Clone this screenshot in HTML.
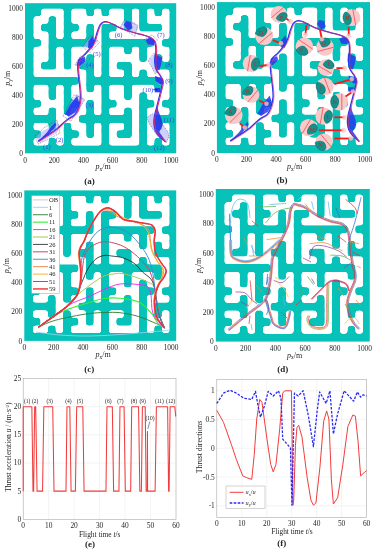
<!DOCTYPE html>
<html><head><meta charset="utf-8"><style>
html,body{margin:0;padding:0;background:#fff;width:373px;height:550px;overflow:hidden}
svg{display:block;will-change:transform}
text{-webkit-font-smoothing:antialiased}
svg{font-family:"Liberation Serif",serif;font-size:7.4px;fill:#262626}
</style></head><body>
<svg width="373" height="550" viewBox="0 0 373 550">
<defs>
<filter id="goo" x="-5%" y="-5%" width="110%" height="110%" color-interpolation-filters="sRGB">
<feGaussianBlur in="SourceGraphic" stdDeviation="0.2"/>
<feComponentTransfer><feFuncA type="linear" slope="7" intercept="-3"/></feComponentTransfer>
</filter>
<g id="maze">
<rect x="0" y="0" width="20" height="20" fill="#06c2b8"/>
<g fill="#fff" filter="url(#goo)"><rect x="2.12" y="0.720" width="3" height="1.014"/><rect x="6.12" y="0.720" width="2" height="1.014"/><rect x="9.12" y="0.720" width="1" height="1.014"/><rect x="11.12" y="0.720" width="2" height="1.014"/><rect x="14.12" y="0.720" width="1" height="1.014"/><rect x="16.12" y="0.720" width="1" height="1.014"/><rect x="18.12" y="0.720" width="1" height="1.014"/><rect x="1.12" y="1.734" width="2" height="1.014"/><rect x="4.12" y="1.734" width="1" height="1.014"/><rect x="6.12" y="1.734" width="7" height="1.014"/><rect x="14.12" y="1.734" width="1" height="1.014"/><rect x="16.12" y="1.734" width="3" height="1.014"/><rect x="1.12" y="2.748" width="1" height="1.014"/><rect x="4.12" y="2.748" width="1" height="1.014"/><rect x="7.12" y="2.748" width="1" height="1.014"/><rect x="9.12" y="2.748" width="1" height="1.014"/><rect x="12.12" y="2.748" width="1" height="1.014"/><rect x="14.12" y="2.748" width="1" height="1.014"/><rect x="18.12" y="2.748" width="1" height="1.014"/><rect x="1.12" y="3.762" width="2" height="1.014"/><rect x="4.12" y="3.762" width="1" height="1.014"/><rect x="6.12" y="3.762" width="2" height="1.014"/><rect x="9.12" y="3.762" width="1" height="1.014"/><rect x="11.12" y="3.762" width="8" height="1.014"/><rect x="2.12" y="4.776" width="1" height="1.014"/><rect x="9.12" y="4.776" width="1" height="1.014"/><rect x="17.12" y="4.776" width="1" height="1.014"/><rect x="1.12" y="5.790" width="2" height="1.014"/><rect x="4.12" y="5.790" width="1" height="1.014"/><rect x="6.12" y="5.790" width="4" height="1.014"/><rect x="11.12" y="5.790" width="2" height="1.014"/><rect x="14.12" y="5.790" width="1" height="1.014"/><rect x="16.12" y="5.790" width="3" height="1.014"/><rect x="1.12" y="6.804" width="2" height="1.014"/><rect x="4.12" y="6.804" width="1" height="1.014"/><rect x="6.12" y="6.804" width="2" height="1.014"/><rect x="9.12" y="6.804" width="1" height="1.014"/><rect x="11.12" y="6.804" width="4" height="1.014"/><rect x="16.12" y="6.804" width="1" height="1.014"/><rect x="18.12" y="6.804" width="1" height="1.014"/><rect x="1.12" y="7.818" width="1" height="1.014"/><rect x="4.12" y="7.818" width="1" height="1.014"/><rect x="6.12" y="7.818" width="1" height="1.014"/><rect x="9.12" y="7.818" width="1" height="1.014"/><rect x="11.12" y="7.818" width="1" height="1.014"/><rect x="14.12" y="7.818" width="3" height="1.014"/><rect x="1.12" y="8.832" width="7" height="1.014"/><rect x="9.12" y="8.832" width="1" height="1.014"/><rect x="11.12" y="8.832" width="2" height="1.014"/><rect x="14.12" y="8.832" width="1" height="1.014"/><rect x="16.12" y="8.832" width="3" height="1.014"/><rect x="7.12" y="9.846" width="1" height="1.014"/><rect x="18.12" y="9.846" width="1" height="1.014"/><rect x="1.12" y="10.860" width="2" height="1.014"/><rect x="4.12" y="10.860" width="1" height="1.014"/><rect x="6.12" y="10.860" width="2" height="1.014"/><rect x="9.12" y="10.860" width="1" height="1.014"/><rect x="11.12" y="10.860" width="2" height="1.014"/><rect x="14.12" y="10.860" width="3" height="1.014"/><rect x="18.12" y="10.860" width="1" height="1.014"/><rect x="1.12" y="11.874" width="2" height="1.014"/><rect x="4.12" y="11.874" width="1" height="1.014"/><rect x="6.12" y="11.874" width="4" height="1.014"/><rect x="11.12" y="11.874" width="2" height="1.014"/><rect x="14.12" y="11.874" width="1" height="1.014"/><rect x="16.12" y="11.874" width="3" height="1.014"/><rect x="2.12" y="12.888" width="3" height="1.014"/><rect x="7.12" y="12.888" width="1" height="1.014"/><rect x="9.12" y="12.888" width="1" height="1.014"/><rect x="12.12" y="12.888" width="3" height="1.014"/><rect x="17.12" y="12.888" width="1" height="1.014"/><rect x="1.12" y="13.902" width="2" height="1.014"/><rect x="4.12" y="13.902" width="1" height="1.014"/><rect x="6.12" y="13.902" width="2" height="1.014"/><rect x="9.12" y="13.902" width="1" height="1.014"/><rect x="11.12" y="13.902" width="2" height="1.014"/><rect x="14.12" y="13.902" width="1" height="1.014"/><rect x="16.12" y="13.902" width="3" height="1.014"/><rect x="4.12" y="14.916" width="3" height="1.014"/><rect x="14.12" y="14.916" width="1" height="1.014"/><rect x="16.12" y="14.916" width="1" height="1.014"/><rect x="1.12" y="15.930" width="2" height="1.014"/><rect x="4.12" y="15.930" width="1" height="1.014"/><rect x="6.12" y="15.930" width="2" height="1.014"/><rect x="9.12" y="15.930" width="1" height="1.014"/><rect x="11.12" y="15.930" width="2" height="1.014"/><rect x="14.12" y="15.930" width="1" height="1.014"/><rect x="16.12" y="15.930" width="1" height="1.014"/><rect x="18.12" y="15.930" width="1" height="1.014"/><rect x="2.12" y="16.944" width="3" height="1.014"/><rect x="7.12" y="16.944" width="1" height="1.014"/><rect x="9.12" y="16.944" width="1" height="1.014"/><rect x="11.12" y="16.944" width="1" height="1.014"/><rect x="14.12" y="16.944" width="1" height="1.014"/><rect x="16.12" y="16.944" width="3" height="1.014"/><rect x="1.12" y="17.958" width="2" height="1.014"/><rect x="4.12" y="17.958" width="1" height="1.014"/><rect x="6.12" y="17.958" width="4" height="1.014"/><rect x="11.12" y="17.958" width="4" height="1.014"/><rect x="16.12" y="17.958" width="1" height="1.014"/><rect x="18.12" y="17.958" width="1" height="1.014"/></g>
</g>
</defs>
<rect width="373" height="550" fill="#fff"/>

<use href="#maze" transform="translate(25,3.2) scale(7.5600,7.5050)"/>
<text x="25" y="162.7" text-anchor="middle">0</text>
<text x="23" y="155.9" text-anchor="end">0</text>
<text x="54.22" y="162.7" text-anchor="middle">200</text>
<text x="23" y="126.9" text-anchor="end">200</text>
<text x="83.43" y="162.7" text-anchor="middle">400</text>
<text x="23" y="97.89" text-anchor="end">400</text>
<text x="112.65" y="162.7" text-anchor="middle">600</text>
<text x="23" y="68.89" text-anchor="end">600</text>
<text x="141.87" y="162.7" text-anchor="middle">800</text>
<text x="23" y="39.88" text-anchor="end">800</text>
<text x="171.09" y="162.7" text-anchor="middle">1000</text>
<text x="23" y="10.88" text-anchor="end">1000</text>
<text x="103.2" y="169.2" text-anchor="middle" font-size="8"><tspan font-style="italic">p</tspan><tspan font-size="5.4" dy="1.9">x</tspan><tspan dy="-1.9">/m</tspan></text>
<text transform="translate(9.8,78.25) rotate(-90)" text-anchor="middle" font-size="8"><tspan font-style="italic">p</tspan><tspan font-size="5.4" dy="1.9">y</tspan><tspan dy="-1.9">/m</tspan></text>
<use href="#maze" transform="translate(216.9,2.1) scale(7.6550,7.5450)"/>
<text x="216.9" y="162.4" text-anchor="middle">0</text>
<text x="214.9" y="155.6" text-anchor="end">0</text>
<text x="246.48" y="162.4" text-anchor="middle">200</text>
<text x="214.9" y="126.44" text-anchor="end">200</text>
<text x="276.07" y="162.4" text-anchor="middle">400</text>
<text x="214.9" y="97.28" text-anchor="end">400</text>
<text x="305.65" y="162.4" text-anchor="middle">600</text>
<text x="214.9" y="68.12" text-anchor="end">600</text>
<text x="335.24" y="162.4" text-anchor="middle">800</text>
<text x="214.9" y="38.96" text-anchor="end">800</text>
<text x="364.82" y="162.4" text-anchor="middle">1000</text>
<text x="214.9" y="9.8" text-anchor="end">1000</text>
<text x="294.6" y="168.9" text-anchor="middle" font-size="8"><tspan font-style="italic">p</tspan><tspan font-size="5.4" dy="1.9">x</tspan><tspan dy="-1.9">/m</tspan></text>
<text transform="translate(201.7,77.55) rotate(-90)" text-anchor="middle" font-size="8"><tspan font-style="italic">p</tspan><tspan font-size="5.4" dy="1.9">y</tspan><tspan dy="-1.9">/m</tspan></text>
<use href="#maze" transform="translate(24.3,190.4) scale(7.5950,7.5250)"/>
<text x="24.3" y="350.3" text-anchor="middle">0</text>
<text x="22.3" y="343.5" text-anchor="end">0</text>
<text x="53.65" y="350.3" text-anchor="middle">200</text>
<text x="22.3" y="314.42" text-anchor="end">200</text>
<text x="83.01" y="350.3" text-anchor="middle">400</text>
<text x="22.3" y="285.34" text-anchor="end">400</text>
<text x="112.36" y="350.3" text-anchor="middle">600</text>
<text x="22.3" y="256.25" text-anchor="end">600</text>
<text x="141.71" y="350.3" text-anchor="middle">800</text>
<text x="22.3" y="227.17" text-anchor="end">800</text>
<text x="171.06" y="350.3" text-anchor="middle">1000</text>
<text x="22.3" y="198.09" text-anchor="end">1000</text>
<text x="103.2" y="356.8" text-anchor="middle" font-size="8"><tspan font-style="italic">p</tspan><tspan font-size="5.4" dy="1.9">x</tspan><tspan dy="-1.9">/m</tspan></text>
<text transform="translate(9.1,265.65) rotate(-90)" text-anchor="middle" font-size="8"><tspan font-style="italic">p</tspan><tspan font-size="5.4" dy="1.9">y</tspan><tspan dy="-1.9">/m</tspan></text>
<use href="#maze" transform="translate(215.8,189) scale(7.7000,7.6300)"/>
<text x="215.8" y="351" text-anchor="middle">0</text>
<text x="213.8" y="344.2" text-anchor="end">0</text>
<text x="245.56" y="351" text-anchor="middle">200</text>
<text x="213.8" y="314.71" text-anchor="end">200</text>
<text x="275.32" y="351" text-anchor="middle">400</text>
<text x="213.8" y="285.22" text-anchor="end">400</text>
<text x="305.08" y="351" text-anchor="middle">600</text>
<text x="213.8" y="255.74" text-anchor="end">600</text>
<text x="334.83" y="351" text-anchor="middle">800</text>
<text x="213.8" y="226.25" text-anchor="end">800</text>
<text x="364.59" y="351" text-anchor="middle">1000</text>
<text x="213.8" y="196.76" text-anchor="end">1000</text>
<text x="294.6" y="357.5" text-anchor="middle" font-size="8"><tspan font-style="italic">p</tspan><tspan font-size="5.4" dy="1.9">x</tspan><tspan dy="-1.9">/m</tspan></text>
<text transform="translate(200.6,265.3) rotate(-90)" text-anchor="middle" font-size="8"><tspan font-style="italic">p</tspan><tspan font-size="5.4" dy="1.9">y</tspan><tspan dy="-1.9">/m</tspan></text>
<path d="M36.00,137.00 L41.00,132.00 L50.00,127.00 L56.00,121.00 L60.00,126.00 L57.00,133.00 L48.00,138.00 L40.00,143.00Z" fill="#a9a9ff" opacity="0.55"/>
<path d="M37.90,141.60 L46.90,132.60 L51.20,126.60 L55.40,122.30 L56.30,124.90 L53.70,129.10 L47.70,135.20 L39.10,141.60Z" fill="#1f2ff0" opacity="0.85"/>
<path d="M35.00,136.00 L44.00,128.00 L57.00,120.00 L60.00,133.00 L47.00,140.00 L38.00,144.00Z" fill="none" stroke="#4a4a6a" stroke-width="0.55" stroke-dasharray="1.1,0.9"/>
<path d="M66.00,114.00 L72.00,100.00 L77.00,94.00 L84.00,99.00 L79.00,112.00 L70.00,119.00Z" fill="#a9a9ff" opacity="0.55"/>
<path d="M77.20,96.00 L79.70,104.60 L75.40,112.30 L68.60,116.60 L65.10,114.00 L70.30,104.60Z" fill="#1f2ff0" opacity="0.85"/>
<path d="M63.00,115.70 L74.20,94.70 L84.90,99.40 L70.70,121.30Z" fill="none" stroke="#4a4a6a" stroke-width="0.55" stroke-dasharray="1.1,0.9"/>
<path d="M76.00,64.00 L79.00,58.00 L85.00,56.00 L86.00,62.00 L80.00,67.00Z" fill="#a9a9ff" opacity="0.55"/>
<path d="M76.50,65.50 L78.50,59.00 L84.50,57.00 L85.50,61.00 L80.00,66.00Z" fill="#1f2ff0" opacity="0.85"/>
<path d="M75.00,64.60 L80.50,56.00 L86.50,58.00 L81.00,68.00Z" fill="none" stroke="#4a4a6a" stroke-width="0.55" stroke-dasharray="1.1,0.9"/>
<path d="M83.00,46.50 L88.00,40.00 L92.50,36.50 L98.00,41.00 L91.00,50.00Z" fill="#a9a9ff" opacity="0.55"/>
<path d="M88.00,48.00 L88.50,41.00 L92.60,36.30 L94.50,42.00 L92.00,48.50Z" fill="#1f2ff0" opacity="0.85"/>
<path d="M82.30,46.60 L91.00,35.50 L99.40,42.30 L90.00,52.60Z" fill="none" stroke="#4a4a6a" stroke-width="0.55" stroke-dasharray="1.1,0.9"/>
<path d="M121.30,25.00 L124.00,20.50 L134.00,22.00 L138.40,27.00 L135.00,33.50 L126.00,30.50Z" fill="#a9a9ff" opacity="0.55"/>
<path d="M123.70,25.00 L126.00,21.10 L131.00,22.00 L132.50,28.00 L128.00,30.50Z" fill="#1f2ff0" opacity="0.85"/>
<path d="M120.70,27.00 L124.30,19.90 L137.80,25.20 L134.90,36.40Z" fill="none" stroke="#4a4a6a" stroke-width="0.55" stroke-dasharray="1.1,0.9"/>
<path d="M145.50,39.00 L150.00,36.50 L155.00,39.50 L155.00,45.50 L148.00,45.20Z" fill="#a9a9ff" opacity="0.55"/>
<path d="M145.80,40.00 L150.00,37.30 L154.50,40.50 L154.00,45.00 L148.00,44.60Z" fill="#1f2ff0" opacity="0.85"/>
<path d="M144.50,39.50 L152.00,35.00 L157.50,40.00 L150.00,46.50Z" fill="none" stroke="#4a4a6a" stroke-width="0.55" stroke-dasharray="1.1,0.9"/>
<path d="M149.00,60.00 L154.50,53.90 L162.20,57.70 L161.20,65.00 L157.00,73.50 L153.00,70.00Z" fill="#a9a9ff" opacity="0.55"/>
<path d="M154.50,53.90 L162.20,57.70 L161.20,64.50 L159.30,70.30 L155.90,69.30 L154.00,61.60Z" fill="#1f2ff0" opacity="0.85"/>
<path d="M148.20,60.60 L154.00,53.00 L163.00,57.00 L155.40,74.10Z" fill="none" stroke="#4a4a6a" stroke-width="0.55" stroke-dasharray="1.1,0.9"/>
<path d="M155.00,76.10 L163.20,79.00 L163.60,84.00 L160.00,84.70 L155.50,81.50Z" fill="#a9a9ff" opacity="0.55"/>
<path d="M155.00,76.10 L163.20,79.00 L163.60,83.80 L160.30,84.20 L155.40,80.90Z" fill="#1f2ff0" opacity="0.85"/>
<path d="M154.50,87.60 L160.30,87.60 L160.30,92.50 L154.50,92.50Z" fill="#a9a9ff" opacity="0.55"/>
<path d="M154.80,87.80 L160.00,87.80 L160.00,92.20 L154.80,92.20Z" fill="#1f2ff0" opacity="0.85"/>
<path d="M146.80,117.50 L152.50,113.70 L162.20,124.30 L168.00,132.00 L169.00,136.90 L166.10,142.60 L157.40,135.90 L149.70,124.30Z" fill="#a9a9ff" opacity="0.55"/>
<path d="M157.40,105.00 L158.30,110.80 L161.70,119.50 L162.70,125.30 L159.30,132.00 L166.10,141.70 L162.20,138.80 L156.40,133.00 L154.50,124.30 L155.00,114.70Z" fill="#1f2ff0" opacity="0.85"/>
<path d="M146.80,117.50 L152.50,113.70 L162.20,124.30 L168.00,132.00 L169.00,136.90 L166.10,142.60 L157.40,135.90 L149.70,124.30Z" fill="none" stroke="#4a4a6a" stroke-width="0.55" stroke-dasharray="1.1,0.9"/>
<path d="M38.40,141.30 C40.13,140.20 45.52,136.88 48.80,134.70 C52.08,132.52 54.98,130.70 58.10,128.20 C61.22,125.70 64.68,121.90 67.50,119.70 C70.32,117.50 73.12,117.03 75.00,115.00 C76.88,112.97 77.85,110.32 78.80,107.50 C79.75,104.68 80.45,101.22 80.70,98.10 C80.95,94.98 80.55,91.92 80.30,88.80 C80.05,85.68 79.57,83.05 79.20,79.40 C78.83,75.75 77.97,70.23 78.10,66.90 C78.23,63.57 78.75,61.58 80.00,59.40 C81.25,57.22 83.72,55.83 85.60,53.80 C87.48,51.77 89.73,49.40 91.30,47.20 C92.87,45.00 93.92,43.25 95.00,40.60 C96.08,37.95 96.87,33.95 97.80,31.30 C98.73,28.65 99.50,26.27 100.60,24.70 C101.70,23.13 102.83,22.22 104.40,21.90 C105.97,21.58 108.12,22.18 110.00,22.80 C111.88,23.42 113.82,24.65 115.70,25.60 C117.58,26.55 119.33,27.67 121.30,28.50 C123.27,29.33 125.38,29.92 127.50,30.60 C129.62,31.28 132.22,32.07 134.00,32.60 C135.78,33.13 136.47,33.35 138.20,33.80 C139.93,34.25 142.32,34.65 144.40,35.30 C146.48,35.95 149.02,36.78 150.70,37.70 C152.38,38.62 153.60,39.25 154.50,40.80 C155.40,42.35 155.83,44.67 156.10,47.00 C156.37,49.33 156.23,52.22 156.10,54.80 C155.97,57.38 155.17,59.92 155.30,62.50 C155.43,65.08 155.95,67.97 156.90,70.30 C157.85,72.63 160.00,74.50 161.00,76.50 C162.00,78.50 162.82,80.13 162.90,82.30 C162.98,84.47 162.10,86.83 161.50,89.50 C160.90,92.17 160.03,95.38 159.30,98.30 C158.57,101.22 157.83,104.10 157.10,107.00 C156.37,109.90 155.38,113.03 154.90,115.70 C154.42,118.37 154.08,120.57 154.20,123.00 C154.32,125.43 154.75,128.12 155.60,130.30 C156.45,132.48 157.60,134.17 159.30,136.10 C161.00,138.03 164.72,140.93 165.80,141.90" fill="none" stroke="#3434f2" stroke-width="1.2" transform="translate(-0.4,-0.1)"/>
<path d="M38.40,141.30 C40.13,140.20 45.52,136.88 48.80,134.70 C52.08,132.52 54.98,130.70 58.10,128.20 C61.22,125.70 64.68,121.90 67.50,119.70 C70.32,117.50 73.12,117.03 75.00,115.00 C76.88,112.97 77.85,110.32 78.80,107.50 C79.75,104.68 80.45,101.22 80.70,98.10 C80.95,94.98 80.55,91.92 80.30,88.80 C80.05,85.68 79.57,83.05 79.20,79.40 C78.83,75.75 77.97,70.23 78.10,66.90 C78.23,63.57 78.75,61.58 80.00,59.40 C81.25,57.22 83.72,55.83 85.60,53.80 C87.48,51.77 89.73,49.40 91.30,47.20 C92.87,45.00 93.92,43.25 95.00,40.60 C96.08,37.95 96.87,33.95 97.80,31.30 C98.73,28.65 99.50,26.27 100.60,24.70 C101.70,23.13 102.83,22.22 104.40,21.90 C105.97,21.58 108.12,22.18 110.00,22.80 C111.88,23.42 113.82,24.65 115.70,25.60 C117.58,26.55 119.33,27.67 121.30,28.50 C123.27,29.33 125.38,29.92 127.50,30.60 C129.62,31.28 132.22,32.07 134.00,32.60 C135.78,33.13 136.47,33.35 138.20,33.80 C139.93,34.25 142.32,34.65 144.40,35.30 C146.48,35.95 149.02,36.78 150.70,37.70 C152.38,38.62 153.60,39.25 154.50,40.80 C155.40,42.35 155.83,44.67 156.10,47.00 C156.37,49.33 156.23,52.22 156.10,54.80 C155.97,57.38 155.17,59.92 155.30,62.50 C155.43,65.08 155.95,67.97 156.90,70.30 C157.85,72.63 160.00,74.50 161.00,76.50 C162.00,78.50 162.82,80.13 162.90,82.30 C162.98,84.47 162.10,86.83 161.50,89.50 C160.90,92.17 160.03,95.38 159.30,98.30 C158.57,101.22 157.83,104.10 157.10,107.00 C156.37,109.90 155.38,113.03 154.90,115.70 C154.42,118.37 154.08,120.57 154.20,123.00 C154.32,125.43 154.75,128.12 155.60,130.30 C156.45,132.48 157.60,134.17 159.30,136.10 C161.00,138.03 164.72,140.93 165.80,141.90" fill="none" stroke="#e8206a" stroke-width="0.95" transform="translate(0.45,0.2)"/>
<text x="46.9" y="149.3" text-anchor="middle" font-size="6.5" style="fill:#2f3ff0">(1)</text>
<text x="59.6" y="141.5" text-anchor="middle" font-size="6.5" style="fill:#2f3ff0">(2)</text>
<text x="89.3" y="106.7" text-anchor="middle" font-size="6.5" style="fill:#2f3ff0">(3)</text>
<text x="90" y="67.1" text-anchor="middle" font-size="6.5" style="fill:#2f3ff0">(4)</text>
<text x="96.9" y="56" text-anchor="middle" font-size="6.5" style="fill:#2f3ff0">(5)</text>
<text x="118.6" y="37.3" text-anchor="middle" font-size="6.5" style="fill:#2f3ff0">(6)</text>
<text x="161" y="37.3" text-anchor="middle" font-size="6.5" style="fill:#2f3ff0">(7)</text>
<text x="169" y="67.1" text-anchor="middle" font-size="6.5" style="fill:#2f3ff0">(8)</text>
<text x="169" y="82.5" text-anchor="middle" font-size="6.5" style="fill:#2f3ff0">(9)</text>
<text x="147.8" y="91.7" text-anchor="middle" font-size="6.5" style="fill:#2f3ff0">(10)</text>
<text x="169" y="121.6" text-anchor="middle" font-size="6.5" style="fill:#2f3ff0">(11)</text>
<text x="159.3" y="149.6" text-anchor="middle" font-size="6.5" style="fill:#2f3ff0">(12)</text>
<path d="M153.2,89.6 L157.5,89.6" stroke="#222" stroke-width="0.7"/>
<path d="M229.96,141.24 L239.08,132.19 L243.43,126.16 L247.68,121.83 L248.59,124.45 L245.96,128.67 L239.89,134.80 L231.18,141.24Z" fill="#2638ec" opacity="0.85"/>
<path d="M269.76,95.39 L272.29,104.04 L267.93,111.78 L261.05,116.10 L257.50,113.49 L262.77,104.04Z" fill="#2638ec" opacity="0.85"/>
<path d="M269.05,64.73 L271.07,58.20 L277.15,56.19 L278.16,60.21 L272.59,65.23Z" fill="#2638ec" opacity="0.85"/>
<path d="M280.69,47.14 L281.20,40.10 L285.35,35.38 L287.27,41.11 L284.74,47.64Z" fill="#2638ec" opacity="0.85"/>
<path d="M316.84,24.02 L319.17,20.10 L324.23,21.00 L325.75,27.03 L321.19,29.55Z" fill="#2638ec" opacity="0.85"/>
<path d="M339.22,39.10 L343.47,36.38 L348.03,39.60 L347.52,44.12 L341.45,43.72Z" fill="#2638ec" opacity="0.85"/>
<path d="M348.03,53.07 L355.82,56.89 L354.81,63.73 L352.89,69.56 L349.44,68.55 L347.52,60.81Z" fill="#2638ec" opacity="0.85"/>
<path d="M348.53,75.39 L356.84,78.30 L357.24,83.13 L353.90,83.53 L348.94,80.21Z" fill="#2638ec" opacity="0.85"/>
<path d="M348.33,87.15 L353.60,87.15 L353.60,91.57 L348.33,91.57Z" fill="#2638ec" opacity="0.85"/>
<path d="M350.96,104.44 L351.88,110.27 L355.32,119.02 L356.33,124.85 L352.89,131.59 L359.77,141.34 L355.82,138.42 L349.95,132.59 L348.03,123.85 L348.53,114.19Z" fill="#2638ec" opacity="0.85"/>
<path d="M230.47,140.94 C232.22,139.83 237.67,136.50 241.00,134.30 C244.32,132.11 247.26,130.28 250.42,127.77 C253.57,125.25 257.08,121.43 259.93,119.22 C262.79,117.01 265.62,116.54 267.53,114.50 C269.44,112.45 270.41,109.79 271.38,106.96 C272.34,104.12 273.05,100.64 273.30,97.51 C273.55,94.37 273.15,91.29 272.89,88.16 C272.64,85.02 272.15,82.38 271.78,78.71 C271.41,75.04 270.53,69.49 270.67,66.14 C270.80,62.79 271.33,60.79 272.59,58.60 C273.86,56.40 276.35,55.01 278.26,52.97 C280.17,50.93 282.45,48.55 284.03,46.33 C285.62,44.12 286.68,42.36 287.78,39.70 C288.88,37.04 289.67,33.01 290.61,30.35 C291.56,27.69 292.34,25.29 293.45,23.71 C294.56,22.14 295.71,21.22 297.30,20.90 C298.88,20.58 301.06,21.18 302.97,21.80 C304.88,22.42 306.83,23.66 308.74,24.62 C310.65,25.57 312.42,26.70 314.41,27.53 C316.40,28.37 318.54,28.96 320.69,29.65 C322.83,30.33 325.46,31.12 327.27,31.66 C329.08,32.19 329.77,32.41 331.52,32.86 C333.28,33.32 335.69,33.72 337.80,34.37 C339.91,35.02 342.48,35.86 344.18,36.78 C345.88,37.71 347.12,38.34 348.03,39.90 C348.94,41.46 349.38,43.79 349.65,46.13 C349.92,48.48 349.78,51.38 349.65,53.98 C349.51,56.57 348.70,59.12 348.84,61.72 C348.97,64.31 349.50,67.21 350.46,69.56 C351.42,71.90 353.60,73.78 354.61,75.79 C355.62,77.80 356.45,79.44 356.53,81.62 C356.62,83.80 355.72,86.18 355.12,88.86 C354.51,91.54 353.63,94.77 352.89,97.71 C352.15,100.64 351.40,103.54 350.66,106.45 C349.92,109.37 348.92,112.52 348.43,115.20 C347.94,117.88 347.61,120.09 347.72,122.54 C347.84,124.98 348.28,127.68 349.14,129.88 C350.00,132.07 351.17,133.76 352.89,135.71 C354.61,137.65 358.37,140.57 359.47,141.54" fill="none" stroke="#3232ea" stroke-width="1.3" transform="translate(-0.3,-0.1)"/>
<path d="M230.47,140.94 C232.22,139.83 237.67,136.50 241.00,134.30 C244.32,132.11 247.26,130.28 250.42,127.77 C253.57,125.25 257.08,121.43 259.93,119.22 C262.79,117.01 265.62,116.54 267.53,114.50 C269.44,112.45 270.41,109.79 271.38,106.96 C272.34,104.12 273.05,100.64 273.30,97.51 C273.55,94.37 273.15,91.29 272.89,88.16 C272.64,85.02 272.15,82.38 271.78,78.71 C271.41,75.04 270.53,69.49 270.67,66.14 C270.80,62.79 271.33,60.79 272.59,58.60 C273.86,56.40 276.35,55.01 278.26,52.97 C280.17,50.93 282.45,48.55 284.03,46.33 C285.62,44.12 286.68,42.36 287.78,39.70 C288.88,37.04 289.67,33.01 290.61,30.35 C291.56,27.69 292.34,25.29 293.45,23.71 C294.56,22.14 295.71,21.22 297.30,20.90 C298.88,20.58 301.06,21.18 302.97,21.80 C304.88,22.42 306.83,23.66 308.74,24.62 C310.65,25.57 312.42,26.70 314.41,27.53 C316.40,28.37 318.54,28.96 320.69,29.65 C322.83,30.33 325.46,31.12 327.27,31.66 C329.08,32.19 329.77,32.41 331.52,32.86 C333.28,33.32 335.69,33.72 337.80,34.37 C339.91,35.02 342.48,35.86 344.18,36.78 C345.88,37.71 347.12,38.34 348.03,39.90 C348.94,41.46 349.38,43.79 349.65,46.13 C349.92,48.48 349.78,51.38 349.65,53.98 C349.51,56.57 348.70,59.12 348.84,61.72 C348.97,64.31 349.50,67.21 350.46,69.56 C351.42,71.90 353.60,73.78 354.61,75.79 C355.62,77.80 356.45,79.44 356.53,81.62 C356.62,83.80 355.72,86.18 355.12,88.86 C354.51,91.54 353.63,94.77 352.89,97.71 C352.15,100.64 351.40,103.54 350.66,106.45 C349.92,109.37 348.92,112.52 348.43,115.20 C347.94,117.88 347.61,120.09 347.72,122.54 C347.84,124.98 348.28,127.68 349.14,129.88 C350.00,132.07 351.17,133.76 352.89,135.71 C354.61,137.65 358.37,140.57 359.47,141.54" fill="none" stroke="#d8306e" stroke-width="0.7" transform="translate(0.6,0.3)"/>
<clipPath id="cb"><rect x="216.9" y="2.1" width="153.1" height="150.9"/></clipPath>
<g clip-path="url(#cb)">
<clipPath id="cc0"><circle cx="233.8" cy="115.2" r="8.8"/></clipPath>
<circle cx="233.8" cy="115.2" r="8.8" fill="#f9c8c8"/>
<ellipse cx="230.56" cy="111.96" rx="4.40" ry="6.69" transform="rotate(-135 230.56 111.96)" fill="#14918a" stroke="#0b5d58" stroke-width="0.5" clip-path="url(#cc0)"/>
<line x1="229.57" y1="122.92" x2="241.52" y2="110.97" stroke="#f23a3a" stroke-width="0.7"/>
<text x="230.56" y="114.16" text-anchor="middle" font-size="6.2" style="fill:#b03030">A</text>
<clipPath id="cc1"><circle cx="251.1" cy="94.5" r="8.3"/></clipPath>
<circle cx="251.1" cy="94.5" r="8.3" fill="#f9c8c8"/>
<ellipse cx="247.79" cy="91.73" rx="4.15" ry="6.31" transform="rotate(-140 247.79 91.73)" fill="#14918a" stroke="#0b5d58" stroke-width="0.5" clip-path="url(#cc1)"/>
<line x1="247.76" y1="102.10" x2="258.00" y2="89.89" stroke="#f23a3a" stroke-width="0.7"/>
<text x="247.79" y="93.93" text-anchor="middle" font-size="6.2" style="fill:#b03030">B</text>
<clipPath id="cc2"><circle cx="251.3" cy="63.5" r="8.6"/></clipPath>
<circle cx="251.3" cy="63.5" r="8.6" fill="#f9c8c8"/>
<ellipse cx="255.70" cy="64.28" rx="4.30" ry="6.54" transform="rotate(10 255.70 64.28)" fill="#14918a" stroke="#0b5d58" stroke-width="0.5" clip-path="url(#cc2)"/>
<line x1="250.36" y1="54.95" x2="247.49" y2="71.21" stroke="#f23a3a" stroke-width="0.7"/>
<text x="255.70" y="66.48" text-anchor="middle" font-size="6.2" style="fill:#b03030">C</text>
<clipPath id="cc3"><circle cx="264.1" cy="36.1" r="9.0"/></clipPath>
<circle cx="264.1" cy="36.1" r="9.0" fill="#f9c8c8"/>
<ellipse cx="261.09" cy="32.51" rx="4.50" ry="6.84" transform="rotate(-130 261.09 32.51)" fill="#14918a" stroke="#0b5d58" stroke-width="0.5" clip-path="url(#cc3)"/>
<line x1="259.10" y1="43.58" x2="272.34" y2="32.48" stroke="#f23a3a" stroke-width="0.7"/>
<text x="261.09" y="34.71" text-anchor="middle" font-size="6.2" style="fill:#b03030">D</text>
<clipPath id="cc4"><circle cx="278.9" cy="14.4" r="8.3"/></clipPath>
<circle cx="278.9" cy="14.4" r="8.3" fill="#f9c8c8"/>
<ellipse cx="281.67" cy="17.71" rx="4.15" ry="6.31" transform="rotate(50 281.67 17.71)" fill="#14918a" stroke="#0b5d58" stroke-width="0.5" clip-path="url(#cc4)"/>
<line x1="283.51" y1="7.50" x2="271.30" y2="17.74" stroke="#f23a3a" stroke-width="0.7"/>
<text x="281.67" y="19.91" text-anchor="middle" font-size="6.2" style="fill:#b03030">E</text>
<clipPath id="cc5"><circle cx="304.4" cy="46.4" r="8.8"/></clipPath>
<circle cx="304.4" cy="46.4" r="8.8" fill="#f9c8c8"/>
<ellipse cx="301.78" cy="50.15" rx="4.40" ry="6.69" transform="rotate(125 301.78 50.15)" fill="#14918a" stroke="#0b5d58" stroke-width="0.5" clip-path="url(#cc5)"/>
<line x1="312.73" y1="49.23" x2="298.89" y2="39.54" stroke="#f23a3a" stroke-width="0.7"/>
<text x="301.78" y="52.35" text-anchor="middle" font-size="6.2" style="fill:#b03030">F</text>
<clipPath id="cc6"><circle cx="325" cy="47" r="8.7"/></clipPath>
<circle cx="325" cy="47" r="8.7" fill="#f9c8c8"/>
<ellipse cx="323.83" cy="42.63" rx="4.35" ry="6.61" transform="rotate(-105 323.83 42.63)" fill="#14918a" stroke="#0b5d58" stroke-width="0.5" clip-path="url(#cc6)"/>
<line x1="317.56" y1="51.51" x2="333.70" y2="47.19" stroke="#f23a3a" stroke-width="0.7"/>
<text x="323.83" y="44.83" text-anchor="middle" font-size="6.2" style="fill:#b03030">O</text>
<clipPath id="cc7"><circle cx="351.8" cy="17.5" r="8.6"/></clipPath>
<circle cx="351.8" cy="17.5" r="8.6" fill="#f9c8c8"/>
<ellipse cx="347.40" cy="18.28" rx="4.30" ry="6.54" transform="rotate(170 347.40 18.28)" fill="#14918a" stroke="#0b5d58" stroke-width="0.5" clip-path="url(#cc7)"/>
<line x1="355.61" y1="25.21" x2="352.74" y2="8.95" stroke="#f23a3a" stroke-width="0.7"/>
<text x="347.40" y="20.48" text-anchor="middle" font-size="6.2" style="fill:#b03030">H</text>
<clipPath id="cc8"><circle cx="326" cy="67.6" r="8.3"/></clipPath>
<circle cx="326" cy="67.6" r="8.3" fill="#f9c8c8"/>
<ellipse cx="328.16" cy="63.86" rx="4.15" ry="6.31" transform="rotate(-60 328.16 63.86)" fill="#14918a" stroke="#0b5d58" stroke-width="0.5" clip-path="url(#cc8)"/>
<line x1="317.94" y1="65.63" x2="331.74" y2="73.60" stroke="#f23a3a" stroke-width="0.7"/>
<text x="328.16" y="66.06" text-anchor="middle" font-size="6.2" style="fill:#b03030">I</text>
<clipPath id="cc9"><circle cx="325" cy="86.3" r="8.6"/></clipPath>
<circle cx="325" cy="86.3" r="8.6" fill="#f9c8c8"/>
<ellipse cx="320.80" cy="87.83" rx="4.30" ry="6.54" transform="rotate(160 320.80 87.83)" fill="#14918a" stroke="#0b5d58" stroke-width="0.5" clip-path="url(#cc9)"/>
<line x1="330.09" y1="93.23" x2="324.44" y2="77.72" stroke="#f23a3a" stroke-width="0.7"/>
<text x="320.80" y="90.03" text-anchor="middle" font-size="6.2" style="fill:#b03030">J</text>
<clipPath id="cc10"><circle cx="339.4" cy="101.8" r="8.6"/></clipPath>
<circle cx="339.4" cy="101.8" r="8.6" fill="#f9c8c8"/>
<ellipse cx="334.93" cy="101.80" rx="4.30" ry="6.54" transform="rotate(180 334.93 101.80)" fill="#14918a" stroke="#0b5d58" stroke-width="0.5" clip-path="url(#cc10)"/>
<line x1="341.81" y1="110.06" x2="341.81" y2="93.54" stroke="#f23a3a" stroke-width="0.7"/>
<text x="334.93" y="104.00" text-anchor="middle" font-size="6.2" style="fill:#b03030">K</text>
<clipPath id="cc11"><circle cx="324" cy="116.2" r="8.6"/></clipPath>
<circle cx="324" cy="116.2" r="8.6" fill="#f9c8c8"/>
<ellipse cx="328.40" cy="116.98" rx="4.30" ry="6.54" transform="rotate(10 328.40 116.98)" fill="#14918a" stroke="#0b5d58" stroke-width="0.5" clip-path="url(#cc11)"/>
<line x1="323.06" y1="107.65" x2="320.19" y2="123.91" stroke="#f23a3a" stroke-width="0.7"/>
<text x="328.40" y="119.18" text-anchor="middle" font-size="6.2" style="fill:#b03030">L</text>
<clipPath id="cc12"><circle cx="308.5" cy="127.6" r="8.6"/></clipPath>
<circle cx="308.5" cy="127.6" r="8.6" fill="#f9c8c8"/>
<ellipse cx="312.37" cy="129.84" rx="4.30" ry="6.54" transform="rotate(30 312.37 129.84)" fill="#14918a" stroke="#0b5d58" stroke-width="0.5" clip-path="url(#cc12)"/>
<line x1="310.54" y1="119.25" x2="302.29" y2="133.55" stroke="#f23a3a" stroke-width="0.7"/>
<text x="312.37" y="132.04" text-anchor="middle" font-size="6.2" style="fill:#b03030">M</text>
<clipPath id="cc13"><circle cx="324" cy="142" r="8.6"/></clipPath>
<circle cx="324" cy="142" r="8.6" fill="#f9c8c8"/>
<ellipse cx="320.57" cy="144.87" rx="4.30" ry="6.54" transform="rotate(140 320.57 144.87)" fill="#14918a" stroke="#0b5d58" stroke-width="0.5" clip-path="url(#cc13)"/>
<line x1="331.15" y1="146.78" x2="320.54" y2="134.13" stroke="#f23a3a" stroke-width="0.7"/>
<text x="320.57" y="147.07" text-anchor="middle" font-size="6.2" style="fill:#b03030">N</text>
<line x1="239.7" y1="123.4" x2="244.9" y2="127.6" stroke="#f81a1a" stroke-width="1.8"/>
<circle cx="244.9" cy="127.6" r="2.3" fill="#fbd0d0" opacity="0.75" stroke="#f07878" stroke-width="0.4" stroke-dasharray="0.8,0.6"/>
<line x1="259.3" y1="100.7" x2="266.5" y2="103.8" stroke="#f81a1a" stroke-width="1.8"/>
<circle cx="266.5" cy="103.8" r="2.3" fill="#fbd0d0" opacity="0.75" stroke="#f07878" stroke-width="0.4" stroke-dasharray="0.8,0.6"/>
<line x1="259.3" y1="66" x2="268.6" y2="65" stroke="#f81a1a" stroke-width="1.8"/>
<circle cx="268.6" cy="65" r="2.3" fill="#fbd0d0" opacity="0.75" stroke="#f07878" stroke-width="0.4" stroke-dasharray="0.8,0.6"/>
<line x1="272.7" y1="40.2" x2="281" y2="43.3" stroke="#f81a1a" stroke-width="1.8"/>
<circle cx="281" cy="43.3" r="2.3" fill="#fbd0d0" opacity="0.75" stroke="#f07878" stroke-width="0.4" stroke-dasharray="0.8,0.6"/>
<line x1="286.2" y1="18.5" x2="290.3" y2="21.6" stroke="#f81a1a" stroke-width="1.8"/>
<circle cx="290.3" cy="21.6" r="2.3" fill="#fbd0d0" opacity="0.75" stroke="#f07878" stroke-width="0.4" stroke-dasharray="0.8,0.6"/>
<line x1="306.4" y1="25" x2="305.4" y2="35" stroke="#f81a1a" stroke-width="1.8"/>
<circle cx="305.4" cy="35" r="2.3" fill="#fbd0d0" opacity="0.75" stroke="#f07878" stroke-width="0.4" stroke-dasharray="0.8,0.6"/>
<line x1="319.8" y1="29" x2="321.9" y2="39.2" stroke="#f81a1a" stroke-width="1.8"/>
<circle cx="321.9" cy="39.2" r="2.3" fill="#fbd0d0" opacity="0.75" stroke="#f07878" stroke-width="0.4" stroke-dasharray="0.8,0.6"/>
<line x1="348.7" y1="26.8" x2="348.7" y2="36.1" stroke="#f81a1a" stroke-width="1.8"/>
<circle cx="348.7" cy="36.1" r="2.3" fill="#fbd0d0" opacity="0.75" stroke="#f07878" stroke-width="0.4" stroke-dasharray="0.8,0.6"/>
<line x1="336.4" y1="68.1" x2="344.6" y2="68.1" stroke="#f81a1a" stroke-width="1.8"/>
<circle cx="344.6" cy="68.1" r="2.3" fill="#fbd0d0" opacity="0.75" stroke="#f07878" stroke-width="0.4" stroke-dasharray="0.8,0.6"/>
<line x1="334.3" y1="84.2" x2="351.8" y2="79.1" stroke="#f81a1a" stroke-width="1.8"/>
<circle cx="351.8" cy="79.1" r="2.3" fill="#fbd0d0" opacity="0.75" stroke="#f07878" stroke-width="0.4" stroke-dasharray="0.8,0.6"/>
<line x1="345.6" y1="96.6" x2="352.9" y2="91.5" stroke="#f81a1a" stroke-width="1.8"/>
<circle cx="352.9" cy="91.5" r="2.3" fill="#fbd0d0" opacity="0.75" stroke="#f07878" stroke-width="0.4" stroke-dasharray="0.8,0.6"/>
<line x1="334.3" y1="117.3" x2="344.6" y2="117.3" stroke="#f81a1a" stroke-width="1.8"/>
<circle cx="344.6" cy="117.3" r="2.3" fill="#fbd0d0" opacity="0.75" stroke="#f07878" stroke-width="0.4" stroke-dasharray="0.8,0.6"/>
<line x1="318.8" y1="130.3" x2="343.6" y2="130.3" stroke="#f81a1a" stroke-width="1.8"/>
<circle cx="343.6" cy="130.3" r="2.3" fill="#fbd0d0" opacity="0.75" stroke="#f07878" stroke-width="0.4" stroke-dasharray="0.8,0.6"/>
<line x1="334.3" y1="138.5" x2="350.8" y2="138.5" stroke="#f81a1a" stroke-width="1.8"/>
<circle cx="350.8" cy="138.5" r="2.3" fill="#fbd0d0" opacity="0.75" stroke="#f07878" stroke-width="0.4" stroke-dasharray="0.8,0.6"/>
</g>
<path d="M36.00,332.00 C40.00,332.50 51.00,334.33 60.00,335.00 C69.00,335.67 80.00,336.08 90.00,336.00 C100.00,335.92 110.00,335.17 120.00,334.50 C130.00,333.83 141.67,332.75 150.00,332.00 C158.33,331.25 166.67,330.33 170.00,330.00" fill="none" stroke="#8fd3f3" stroke-width="0.9"/>
<path d="M38.30,327.20 C40.25,326.33 46.03,323.43 50.00,322.00 C53.97,320.57 56.95,319.80 62.10,318.60 C67.25,317.40 75.42,315.73 80.90,314.80 C86.38,313.87 90.90,313.38 95.00,313.00 C99.10,312.62 101.33,312.55 105.50,312.50 C109.67,312.45 114.55,312.05 120.00,312.70 C125.45,313.35 132.13,314.58 138.20,316.40 C144.27,318.22 152.00,321.67 156.40,323.60 C160.80,325.53 163.23,327.27 164.60,328.00" fill="none" stroke="#2d7a2d" stroke-width="0.9"/>
<path d="M38.30,327.20 C41.08,325.25 50.08,318.50 55.00,315.50 C59.92,312.50 62.55,311.20 67.80,309.20 C73.05,307.20 80.47,305.28 86.50,303.50 C92.53,301.72 98.42,299.38 104.00,298.50 C109.58,297.62 114.30,297.65 120.00,298.20 C125.70,298.75 133.05,299.38 138.20,301.80 C143.35,304.22 147.57,309.07 150.90,312.70 C154.23,316.33 155.92,321.05 158.20,323.60 C160.48,326.15 163.53,327.27 164.60,328.00" fill="none" stroke="#33f033" stroke-width="1.1"/>
<path d="M38.30,327.20 C41.08,325.17 50.22,318.45 55.00,315.00 C59.78,311.55 63.67,308.67 67.00,306.50 C70.33,304.33 71.12,303.75 75.00,302.00 C78.88,300.25 85.47,298.08 90.30,296.00 C95.13,293.92 99.05,291.50 104.00,289.50 C108.95,287.50 114.30,284.83 120.00,284.00 C125.70,283.17 133.65,284.10 138.20,284.50 C142.75,284.90 145.18,284.73 147.30,286.40 C149.42,288.07 150.00,290.12 150.90,294.50 C151.80,298.88 151.18,307.85 152.70,312.70 C154.22,317.55 158.02,321.05 160.00,323.60 C161.98,326.15 163.83,327.27 164.60,328.00" fill="none" stroke="#f020f0" stroke-width="0.9"/>
<path d="M38.30,327.20 C41.08,325.17 50.22,318.53 55.00,315.00 C59.78,311.47 63.83,308.83 67.00,306.00 C70.17,303.17 70.12,301.53 74.00,298.00 C77.88,294.47 85.30,288.47 90.30,284.80 C95.30,281.13 100.12,277.80 104.00,276.00 C107.88,274.20 110.60,274.42 113.60,274.00 C116.60,273.58 117.90,272.83 122.00,273.50 C126.10,274.17 133.38,276.32 138.20,278.00 C143.02,279.68 148.18,281.93 150.90,283.60 C153.62,285.27 153.48,284.93 154.50,288.00 C155.52,291.07 156.00,297.00 157.00,302.00 C158.00,307.00 159.23,313.67 160.50,318.00 C161.77,322.33 163.92,326.33 164.60,328.00" fill="none" stroke="#9ccc5a" stroke-width="1.0"/>
<path d="M38.30,327.20 C41.08,325.17 50.05,318.53 55.00,315.00 C59.95,311.47 64.50,309.17 68.00,306.00 C71.50,302.83 73.67,300.00 76.00,296.00 C78.33,292.00 79.93,286.68 82.00,282.00 C84.07,277.32 86.08,271.73 88.40,267.90 C90.72,264.07 93.30,261.07 95.90,259.00 C98.50,256.93 101.38,256.00 104.00,255.50 C106.62,255.00 108.40,255.60 111.60,256.00 C114.80,256.40 119.35,256.62 123.20,257.90 C127.05,259.18 131.48,261.35 134.70,263.70 C137.92,266.05 139.80,269.45 142.50,272.00 C145.20,274.55 148.90,276.33 150.90,279.00 C152.90,281.67 153.57,284.17 154.50,288.00 C155.43,291.83 155.58,297.00 156.50,302.00 C157.42,307.00 158.65,313.67 160.00,318.00 C161.35,322.33 163.83,326.33 164.60,328.00" fill="none" stroke="#1a1a1a" stroke-width="0.8"/>
<path d="M38.30,327.20 C41.08,325.17 50.05,318.53 55.00,315.00 C59.95,311.47 64.50,309.00 68.00,306.00 C71.50,303.00 73.87,300.83 76.00,297.00 C78.13,293.17 79.63,288.50 80.80,283.00 C81.97,277.50 82.22,269.00 83.00,264.00 C83.78,259.00 84.28,255.78 85.50,253.00 C86.72,250.22 88.22,248.97 90.30,247.30 C92.38,245.63 95.72,243.92 98.00,243.00 C100.28,242.08 101.73,241.88 104.00,241.80 C106.27,241.72 108.40,241.75 111.60,242.50 C114.80,243.25 119.35,244.37 123.20,246.30 C127.05,248.23 131.17,251.20 134.70,254.10 C138.23,257.00 141.82,260.72 144.40,263.70 C146.98,266.68 148.52,268.12 150.20,272.00 C151.88,275.88 153.37,281.83 154.50,287.00 C155.63,292.17 156.00,297.83 157.00,303.00 C158.00,308.17 159.23,313.83 160.50,318.00 C161.77,322.17 163.92,326.33 164.60,328.00" fill="none" stroke="#c84a64" stroke-width="1.0"/>
<path d="M38.30,327.20 C41.08,325.17 50.05,318.53 55.00,315.00 C59.95,311.47 64.50,309.00 68.00,306.00 C71.50,303.00 73.92,300.50 76.00,297.00 C78.08,293.50 79.67,289.50 80.50,285.00 C81.33,280.50 80.75,274.50 81.00,270.00 C81.25,265.50 81.17,261.67 82.00,258.00 C82.83,254.33 84.33,251.33 86.00,248.00 C87.67,244.67 89.67,241.00 92.00,238.00 C94.33,235.00 96.73,231.83 100.00,230.00 C103.27,228.17 107.73,227.02 111.60,227.00 C115.47,226.98 119.67,228.28 123.20,229.90 C126.73,231.52 129.58,233.63 132.80,236.70 C136.02,239.77 139.92,244.77 142.50,248.30 C145.08,251.83 146.70,254.37 148.30,257.90 C149.90,261.43 151.07,264.98 152.10,269.50 C153.13,274.02 153.85,279.92 154.50,285.00 C155.15,290.08 155.25,295.17 156.00,300.00 C156.75,304.83 157.57,309.33 159.00,314.00 C160.43,318.67 163.67,325.67 164.60,328.00" fill="none" stroke="#3a86d0" stroke-width="0.9"/>
<path d="M38.30,327.20 C39.75,326.17 43.88,323.20 47.00,321.00 C50.12,318.80 53.83,316.33 57.00,314.00 C60.17,311.67 63.50,309.17 66.00,307.00 C68.50,304.83 70.08,303.00 72.00,301.00 C73.92,299.00 76.08,297.67 77.50,295.00 C78.92,292.33 79.87,288.67 80.50,285.00 C81.13,281.33 81.33,276.83 81.30,273.00 C81.27,269.17 80.60,265.33 80.30,262.00 C80.00,258.67 79.38,255.50 79.50,253.00 C79.62,250.50 80.17,249.00 81.00,247.00 C81.83,245.00 83.33,243.67 84.50,241.00 C85.67,238.33 86.42,234.50 88.00,231.00 C89.58,227.50 91.93,223.30 94.00,220.00 C96.07,216.70 98.12,212.78 100.40,211.20 C102.68,209.62 104.55,209.47 107.70,210.50 C110.85,211.53 114.15,215.28 119.30,217.40 C124.45,219.52 133.77,221.27 138.60,223.20 C143.43,225.13 146.37,226.43 148.30,229.00 C150.23,231.57 149.57,235.07 150.20,238.60 C150.83,242.13 150.82,246.33 152.10,250.20 C153.38,254.07 156.00,258.58 157.90,261.80 C159.80,265.02 162.82,266.80 163.50,269.50 C164.18,272.20 163.08,275.08 162.00,278.00 C160.92,280.92 158.33,283.33 157.00,287.00 C155.67,290.67 154.17,295.17 154.00,300.00 C153.83,304.83 154.23,311.33 156.00,316.00 C157.77,320.67 163.17,326.00 164.60,328.00" fill="none" stroke="#f08a50" stroke-width="1.0"/>
<path d="M37.90,327.60 C39.35,326.57 43.48,323.60 46.60,321.40 C49.72,319.20 53.43,316.73 56.60,314.40 C59.77,312.07 63.10,309.57 65.60,307.40 C68.10,305.23 69.77,303.40 71.60,301.40 C73.43,299.40 75.27,298.07 76.60,295.40 C77.93,292.73 78.97,289.07 79.60,285.40 C80.23,281.73 80.43,277.23 80.40,273.40 C80.37,269.57 79.70,265.73 79.40,262.40 C79.10,259.07 78.48,255.90 78.60,253.40 C78.72,250.90 79.27,249.40 80.10,247.40 C80.93,245.40 82.35,244.07 83.60,241.40 C84.85,238.73 85.93,234.90 87.60,231.40 C89.27,227.90 91.53,223.70 93.60,220.40 C95.67,217.10 97.65,213.50 100.00,211.60 C102.35,209.70 104.87,208.52 107.70,209.00 C110.53,209.48 113.28,212.58 117.00,214.50 C120.72,216.42 126.17,218.92 130.00,220.50 C133.83,222.08 137.17,222.42 140.00,224.00 C142.83,225.58 145.37,227.33 147.00,230.00 C148.63,232.67 149.00,236.50 149.80,240.00 C150.60,243.50 150.60,247.50 151.80,251.00 C153.00,254.50 155.22,258.08 157.00,261.00 C158.78,263.92 161.75,265.75 162.50,268.50 C163.25,271.25 162.33,274.58 161.50,277.50 C160.67,280.42 158.72,282.25 157.50,286.00 C156.28,289.75 154.42,295.00 154.20,300.00 C153.98,305.00 154.47,311.33 156.20,316.00 C157.93,320.67 163.20,326.00 164.60,328.00" fill="none" stroke="#f5b830" stroke-width="1.0"/>
<path d="M38.65,327.50 C40.10,326.47 44.23,323.50 47.35,321.30 C50.47,319.10 54.18,316.63 57.35,314.30 C60.52,311.97 63.85,309.47 66.35,307.30 C68.85,305.13 70.52,303.30 72.35,301.30 C74.18,299.30 76.02,297.97 77.35,295.30 C78.68,292.63 79.72,288.97 80.35,285.30 C80.98,281.63 81.18,277.13 81.15,273.30 C81.12,269.47 80.45,265.63 80.15,262.30 C79.85,258.97 79.23,255.80 79.35,253.30 C79.47,250.80 80.02,249.30 80.85,247.30 C81.68,245.30 83.10,243.97 84.35,241.30 C85.60,238.63 86.68,234.80 88.35,231.30 C90.02,227.80 92.28,223.60 94.35,220.30 C96.42,217.00 98.47,213.55 100.75,211.50 C103.03,209.45 105.55,207.93 108.05,208.00 C110.55,208.07 113.17,209.97 115.75,211.90 C118.33,213.83 120.65,218.00 123.55,219.60 C126.45,221.20 129.62,220.85 133.15,221.50 C136.68,222.15 141.53,222.85 144.75,223.50 C147.97,224.15 150.68,224.12 152.45,225.40 C154.22,226.68 155.03,228.30 155.35,231.20 C155.67,234.10 154.18,238.95 154.35,242.80 C154.52,246.65 155.05,250.77 156.35,254.30 C157.65,257.83 160.48,261.33 162.15,264.00 C163.82,266.67 165.98,268.08 166.35,270.30 C166.72,272.52 165.65,274.72 164.35,277.30 C163.05,279.88 160.13,281.97 158.55,285.80 C156.97,289.63 155.15,295.15 154.85,300.30 C154.55,305.45 155.07,312.03 156.75,316.70 C158.43,321.37 163.58,326.37 164.95,328.30" fill="none" stroke="#9a4ab8" stroke-width="1.0"/>
<path d="M38.30,327.20 C39.75,326.17 43.88,323.20 47.00,321.00 C50.12,318.80 53.83,316.33 57.00,314.00 C60.17,311.67 63.50,309.17 66.00,307.00 C68.50,304.83 70.17,303.00 72.00,301.00 C73.83,299.00 75.67,297.67 77.00,295.00 C78.33,292.33 79.37,288.67 80.00,285.00 C80.63,281.33 80.83,276.83 80.80,273.00 C80.77,269.17 80.10,265.33 79.80,262.00 C79.50,258.67 78.88,255.50 79.00,253.00 C79.12,250.50 79.67,249.00 80.50,247.00 C81.33,245.00 82.75,243.67 84.00,241.00 C85.25,238.33 86.33,234.50 88.00,231.00 C89.67,227.50 91.93,223.30 94.00,220.00 C96.07,216.70 98.12,213.25 100.40,211.20 C102.68,209.15 105.20,207.63 107.70,207.70 C110.20,207.77 112.82,209.67 115.40,211.60 C117.98,213.53 120.30,217.70 123.20,219.30 C126.10,220.90 129.27,220.55 132.80,221.20 C136.33,221.85 141.18,222.55 144.40,223.20 C147.62,223.85 150.33,223.82 152.10,225.10 C153.87,226.38 154.68,228.00 155.00,230.90 C155.32,233.80 153.83,238.65 154.00,242.50 C154.17,246.35 154.70,250.47 156.00,254.00 C157.30,257.53 160.13,261.03 161.80,263.70 C163.47,266.37 165.63,267.78 166.00,270.00 C166.37,272.22 165.30,274.42 164.00,277.00 C162.70,279.58 159.78,281.67 158.20,285.50 C156.62,289.33 154.80,294.85 154.50,300.00 C154.20,305.15 154.72,311.73 156.40,316.40 C158.08,321.07 163.23,326.07 164.60,328.00" fill="none" stroke="#f23030" stroke-width="1.4"/>
<rect x="31.6" y="195.6" width="28" height="97.8" fill="#fff" stroke="#a0a0a0" stroke-width="0.5"/>
<line x1="33" y1="199.90" x2="48" y2="199.90" stroke="#c6c6c6" stroke-width="0.9"/>
<text x="49" y="202.20" font-size="6.5">OB</text>
<line x1="33" y1="207.32" x2="48" y2="207.32" stroke="#8fd3f3" stroke-width="0.9"/>
<text x="49" y="209.62" font-size="6.5">1</text>
<line x1="33" y1="214.74" x2="48" y2="214.74" stroke="#2d7a2d" stroke-width="0.9"/>
<text x="49" y="217.04" font-size="6.5">6</text>
<line x1="33" y1="222.16" x2="48" y2="222.16" stroke="#33f033" stroke-width="1.1"/>
<text x="49" y="224.46" font-size="6.5">11</text>
<line x1="33" y1="229.58" x2="48" y2="229.58" stroke="#f020f0" stroke-width="0.9"/>
<text x="49" y="231.88" font-size="6.5">16</text>
<line x1="33" y1="237.00" x2="48" y2="237.00" stroke="#9ccc5a" stroke-width="1.0"/>
<text x="49" y="239.30" font-size="6.5">21</text>
<line x1="33" y1="244.42" x2="48" y2="244.42" stroke="#1a1a1a" stroke-width="0.8"/>
<text x="49" y="246.72" font-size="6.5">26</text>
<line x1="33" y1="251.84" x2="48" y2="251.84" stroke="#c84a64" stroke-width="1.0"/>
<text x="49" y="254.14" font-size="6.5">31</text>
<line x1="33" y1="259.26" x2="48" y2="259.26" stroke="#3a86d0" stroke-width="0.9"/>
<text x="49" y="261.56" font-size="6.5">36</text>
<line x1="33" y1="266.68" x2="48" y2="266.68" stroke="#f08a50" stroke-width="1.0"/>
<text x="49" y="268.98" font-size="6.5">41</text>
<line x1="33" y1="274.10" x2="48" y2="274.10" stroke="#f5b830" stroke-width="1.0"/>
<text x="49" y="276.40" font-size="6.5">46</text>
<line x1="33" y1="281.52" x2="48" y2="281.52" stroke="#9a4ab8" stroke-width="1.0"/>
<text x="49" y="283.82" font-size="6.5">51</text>
<line x1="33" y1="288.94" x2="48" y2="288.94" stroke="#f23030" stroke-width="1.4"/>
<text x="49" y="291.24" font-size="6.5">59</text>
<path d="M227.82,329.41 C229.89,327.68 236.44,322.11 240.23,319.00 C244.02,315.90 247.45,313.19 250.55,310.79 C253.65,308.39 256.45,306.64 258.81,304.62 C261.17,302.60 263.23,301.33 264.71,298.66 C266.20,295.99 266.87,292.33 267.72,288.60 C268.57,284.87 269.29,280.41 269.81,276.29 C270.32,272.17 270.33,267.49 270.81,263.88 C271.28,260.28 270.92,258.96 272.67,254.66 C274.41,250.36 278.83,243.25 281.29,238.11 C283.75,232.98 286.08,228.40 287.44,223.84 C288.79,219.29 288.51,214.11 289.43,210.77 C290.35,207.43 291.48,204.90 292.95,203.79 C294.41,202.68 296.08,203.63 298.23,204.13 C300.37,204.63 302.50,205.00 305.83,206.81 C309.16,208.62 314.12,212.79 318.23,215.01 C322.34,217.23 326.37,218.76 330.49,220.15 C334.60,221.53 339.92,221.67 342.92,223.31 C345.93,224.94 347.23,227.08 348.52,229.94 C349.82,232.80 350.16,236.99 350.69,240.47 C351.22,243.94 351.18,246.56 351.69,250.79 C352.21,255.02 353.08,262.31 353.78,265.82 C354.48,269.34 355.56,269.40 355.89,271.88 C356.22,274.36 356.49,277.49 355.78,280.70 C355.07,283.90 352.85,287.66 351.65,291.10 C350.45,294.53 348.94,297.93 348.60,301.29 C348.25,304.65 348.73,307.94 349.57,311.28 C350.42,314.62 351.97,318.48 353.67,321.34 C355.38,324.20 358.76,327.23 359.78,328.41" fill="none" stroke="#2f6fd0" stroke-width="0.65"/>
<path d="M228.21,329.87 C230.27,328.14 236.83,322.57 240.61,319.47 C244.39,316.37 247.82,313.66 250.92,311.26 C254.02,308.86 256.82,307.12 259.20,305.07 C261.59,303.02 263.72,301.68 265.24,298.95 C266.76,296.23 267.45,292.50 268.31,288.73 C269.17,284.97 269.89,280.49 270.40,276.36 C270.92,272.23 270.93,267.54 271.40,263.96 C271.87,260.38 271.48,259.15 273.22,254.89 C274.96,250.62 279.36,243.52 281.83,238.37 C284.29,233.23 286.65,228.59 288.01,224.01 C289.38,219.44 289.13,214.21 290.01,210.92 C290.89,207.63 291.97,205.30 293.32,204.26 C294.66,203.23 296.04,204.20 298.08,204.71 C300.11,205.22 302.23,205.53 305.54,207.34 C308.85,209.14 313.82,213.31 317.94,215.54 C322.07,217.77 326.18,219.33 330.30,220.72 C334.41,222.10 339.69,222.26 342.64,223.84 C345.59,225.41 346.73,227.39 347.97,230.18 C349.22,232.97 349.58,237.11 350.10,240.56 C350.62,244.00 350.58,246.63 351.10,250.86 C351.61,255.09 352.49,262.43 353.19,265.94 C353.89,269.46 354.96,269.52 355.30,271.96 C355.63,274.40 355.90,277.41 355.19,280.57 C354.49,283.72 352.28,287.45 351.08,290.90 C349.88,294.34 348.35,297.81 348.00,301.23 C347.65,304.65 348.13,308.02 348.99,311.43 C349.85,314.83 351.44,318.75 353.16,321.65 C354.88,324.54 358.30,327.61 359.33,328.80" fill="none" stroke="#f08a2a" stroke-width="0.65"/>
<path d="M228.59,330.33 C230.66,328.60 237.21,323.03 240.99,319.93 C244.77,316.83 248.18,314.14 251.28,311.74 C254.38,309.34 257.18,307.61 259.60,305.53 C262.01,303.45 264.21,302.02 265.76,299.25 C267.31,296.47 268.02,292.67 268.89,288.87 C269.77,285.07 270.48,280.58 271.00,276.44 C271.52,272.30 271.53,267.59 272.00,264.04 C272.46,260.48 272.05,259.35 273.78,255.11 C275.51,250.88 279.90,243.78 282.37,238.63 C284.84,233.47 287.22,228.78 288.59,224.19 C289.96,219.59 289.74,214.32 290.59,211.08 C291.44,207.84 292.46,205.70 293.68,204.74 C294.91,203.77 296.00,204.77 297.92,205.29 C299.85,205.81 301.97,206.07 305.26,207.86 C308.55,209.66 313.52,213.83 317.66,216.06 C321.80,218.30 325.99,219.90 330.10,221.28 C334.22,222.67 339.47,222.84 342.36,224.36 C345.25,225.89 346.23,227.71 347.43,230.42 C348.62,233.13 348.99,237.23 349.50,240.64 C350.02,244.06 349.99,246.70 350.50,250.94 C351.02,255.17 351.91,262.54 352.61,266.06 C353.31,269.58 354.37,269.64 354.70,272.04 C355.04,274.44 355.30,277.32 354.61,280.43 C353.91,283.54 351.72,287.25 350.52,290.70 C349.32,294.16 347.75,297.69 347.40,301.17 C347.05,304.65 347.54,308.11 348.41,311.57 C349.28,315.04 350.90,319.02 352.64,321.95 C354.39,324.89 357.83,327.99 358.87,329.20" fill="none" stroke="#8e3fb0" stroke-width="0.65"/>
<path d="M228.98,330.79 C231.04,329.06 237.59,323.49 241.37,320.40 C245.15,317.30 248.55,314.61 251.65,312.21 C254.75,309.81 257.55,308.09 259.99,305.98 C262.43,303.87 264.70,302.37 266.29,299.54 C267.87,296.71 268.59,292.84 269.48,289.00 C270.36,285.16 271.07,280.66 271.59,276.51 C272.11,272.36 272.14,267.65 272.59,264.12 C273.05,260.59 272.61,259.54 274.33,255.34 C276.05,251.14 280.44,244.05 282.91,238.89 C285.38,233.72 287.79,228.97 289.16,224.36 C290.54,219.75 290.35,214.42 291.17,211.23 C291.99,208.04 292.95,206.10 294.05,205.21 C295.15,204.32 295.95,205.34 297.77,205.87 C299.59,206.40 301.70,206.60 304.97,208.39 C308.24,210.18 313.21,214.35 317.37,216.59 C321.53,218.84 325.80,220.47 329.91,221.85 C334.03,223.24 339.25,223.43 342.08,224.89 C344.90,226.36 345.74,228.02 346.88,230.66 C348.02,233.30 348.41,237.34 348.91,240.73 C349.41,244.12 349.39,246.77 349.91,251.01 C350.42,255.25 351.32,262.66 352.02,266.18 C352.72,269.69 353.77,269.77 354.11,272.12 C354.44,274.48 354.71,277.24 354.02,280.30 C353.33,283.37 351.15,287.04 349.95,290.50 C348.75,293.97 347.16,297.57 346.80,301.11 C346.45,304.65 346.94,308.20 347.83,311.72 C348.71,315.25 350.36,319.28 352.13,322.26 C353.89,325.24 357.37,328.37 358.42,329.59" fill="none" stroke="#e8302a" stroke-width="0.65"/>
<path d="M231.55,239.94 C231.68,242.32 231.49,251.14 232.31,254.21 C233.13,257.28 234.24,257.29 236.47,258.36 C238.70,259.43 242.61,260.66 245.70,260.65 C248.79,260.64 252.16,259.50 255.00,258.33 C257.85,257.16 260.18,255.50 262.79,253.64 C265.41,251.79 267.96,249.61 270.71,247.21 C273.46,244.81 277.86,240.56 279.28,239.23" fill="none" stroke="#56b8f0" stroke-width="0.65"/>
<path d="M230.85,239.98 C230.98,242.38 230.75,251.24 231.64,254.40 C232.52,257.57 233.81,257.83 236.16,258.99 C238.50,260.14 242.51,261.35 245.70,261.35 C248.89,261.35 252.35,260.17 255.27,258.98 C258.18,257.79 260.55,256.09 263.20,254.21 C265.85,252.34 268.41,250.15 271.17,247.74 C273.93,245.32 278.33,241.08 279.76,239.74" fill="none" stroke="#2f6fd0" stroke-width="0.65"/>
<path d="M230.15,240.02 C230.29,242.45 230.01,251.33 230.96,254.60 C231.91,257.86 233.39,258.37 235.84,259.61 C238.30,260.86 242.42,262.05 245.70,262.05 C248.98,262.05 252.55,260.83 255.53,259.62 C258.52,258.41 260.92,256.68 263.60,254.79 C266.28,252.89 268.86,250.69 271.63,248.26 C274.40,245.84 278.80,241.59 280.24,240.26" fill="none" stroke="#e8302a" stroke-width="0.65"/>
<path d="M229.45,240.06 C229.59,242.51 229.28,251.42 230.29,254.79 C231.30,258.15 232.96,258.91 235.53,260.24 C238.10,261.57 242.32,262.74 245.70,262.75 C249.08,262.76 252.74,261.50 255.80,260.27 C258.85,259.04 261.29,257.27 264.01,255.36 C266.72,253.44 269.31,251.22 272.09,248.79 C274.88,246.36 279.28,242.11 280.72,240.77" fill="none" stroke="#f08a2a" stroke-width="0.65"/>
<path d="M311.24,298.75 C312.61,297.36 316.69,293.21 319.45,290.45 C322.21,287.69 325.34,283.93 327.81,282.19 C330.28,280.45 332.11,280.20 334.26,280.00 C336.40,279.81 338.52,280.31 340.66,281.03 C342.79,281.74 345.60,282.63 347.07,284.27 C348.54,285.90 349.07,289.74 349.47,290.83" fill="none" stroke="#8e3fb0" stroke-width="0.65"/>
<path d="M311.60,299.10 C312.97,297.72 317.05,293.55 319.80,290.80 C322.55,288.05 325.68,284.32 328.10,282.60 C330.52,280.88 332.23,280.68 334.30,280.50 C336.37,280.32 338.43,280.82 340.50,281.50 C342.57,282.18 345.28,283.02 346.70,284.60 C348.12,286.18 348.62,289.93 349.00,291.00" fill="none" stroke="#e8302a" stroke-width="0.65"/>
<path d="M311.96,299.45 C313.32,298.07 317.41,293.89 320.15,291.15 C322.89,288.41 326.02,284.70 328.39,283.01 C330.75,281.32 332.35,281.17 334.34,281.00 C336.34,280.83 338.35,281.32 340.34,281.97 C342.34,282.63 344.96,283.40 346.33,284.93 C347.69,286.47 348.16,290.13 348.53,291.17" fill="none" stroke="#c0304a" stroke-width="0.65"/>
<path d="M328.90,283.02 C328.83,286.68 328.57,298.83 328.50,305.01 C328.43,311.19 328.90,316.31 328.50,320.09 C328.10,323.86 327.86,326.12 326.10,327.67 C324.34,329.23 320.55,329.56 317.94,329.40 C315.33,329.23 312.26,328.23 310.42,326.69 C308.59,325.15 307.30,322.07 306.92,320.17 C306.53,318.26 307.93,316.08 308.13,315.27" fill="none" stroke="#5ab04a" stroke-width="0.65"/>
<path d="M328.00,283.00 C327.93,286.67 327.67,298.83 327.60,305.00 C327.53,311.17 327.95,316.33 327.60,320.00 C327.25,323.67 327.10,325.58 325.50,327.00 C323.90,328.42 320.42,328.67 318.00,328.50 C315.58,328.33 312.70,327.42 311.00,326.00 C309.30,324.58 308.13,321.75 307.80,320.00 C307.47,318.25 308.80,316.25 309.00,315.50" fill="none" stroke="#f08a2a" stroke-width="0.65"/>
<path d="M327.10,282.98 C327.03,286.65 326.77,298.84 326.70,304.99 C326.63,311.15 327.00,316.36 326.70,319.91 C326.40,323.47 326.34,325.04 324.90,326.33 C323.46,327.61 320.28,327.77 318.06,327.60 C315.84,327.43 313.14,326.60 311.58,325.31 C310.01,324.01 308.97,321.43 308.68,319.83 C308.40,318.24 309.67,316.42 309.87,315.73" fill="none" stroke="#e8302a" stroke-width="0.65"/>
<path d="M266.22,298.87 C267.08,301.62 270.06,311.28 271.41,315.36 C272.77,319.45 272.55,321.41 274.35,323.39 C276.15,325.38 280.35,326.90 282.22,327.26 C284.09,327.61 284.49,327.50 285.55,325.52 C286.61,323.55 287.96,317.85 288.57,315.41 C289.19,312.98 289.14,311.64 289.26,310.89" fill="none" stroke="#e8302a" stroke-width="0.6"/>
<path d="M265.74,299.02 C266.60,301.77 269.56,311.40 270.94,315.52 C272.31,319.64 272.12,321.69 273.98,323.73 C275.85,325.77 280.14,327.41 282.14,327.75 C284.14,328.09 284.83,327.81 285.98,325.77 C287.14,323.74 288.43,318.01 289.06,315.54 C289.69,313.07 289.64,311.73 289.75,310.96" fill="none" stroke="#f08a2a" stroke-width="0.6"/>
<path d="M265.26,299.18 C266.13,301.93 269.07,311.53 270.46,315.68 C271.86,319.83 271.68,321.97 273.62,324.07 C275.55,326.16 279.93,327.92 282.06,328.25 C284.19,328.57 285.17,328.12 286.42,326.03 C287.66,323.93 288.90,318.16 289.54,315.66 C290.18,313.16 290.13,311.81 290.25,311.04" fill="none" stroke="#8e3fb0" stroke-width="0.6"/>
<path d="M264.78,299.33 C265.65,302.08 268.58,311.66 269.99,315.84 C271.40,320.02 271.25,322.26 273.25,324.41 C275.25,326.56 279.71,328.43 281.98,328.74 C284.25,329.05 285.51,328.44 286.85,326.28 C288.19,324.12 289.38,318.31 290.03,315.79 C290.68,313.26 290.62,311.89 290.74,311.11" fill="none" stroke="#2f6fd0" stroke-width="0.6"/>
<path d="M231.50,257.10 C231.33,254.35 230.67,246.78 230.50,240.60 C230.33,234.42 230.17,225.50 230.50,220.00 C230.83,214.50 231.48,210.87 232.50,207.60 C233.52,204.33 235.05,201.78 236.60,200.40 C238.15,199.02 240.07,198.97 241.80,199.30 C243.53,199.63 245.80,200.68 247.00,202.40 C248.20,204.12 248.50,207.02 249.00,209.60 C249.50,212.18 249.83,216.52 250.00,217.90" fill="none" stroke="#56b8f0" stroke-width="0.75"/>
<path d="M229.40,213.80 C229.50,216.50 229.82,225.63 230.00,230.00 C230.18,234.37 230.42,238.33 230.50,240.00" fill="none" stroke="#2f6fd0" stroke-width="0.75"/>
<path d="M228.40,220.00 C228.92,220.33 230.98,221.67 231.50,222.00" fill="none" stroke="#f08a2a" stroke-width="0.75"/>
<path d="M265.50,223.10 C266.88,221.55 271.03,216.05 273.80,213.80 C276.57,211.55 278.90,210.63 282.10,209.60 C285.30,208.57 291.18,207.93 293.00,207.60" fill="none" stroke="#5ab04a" stroke-width="0.75"/>
<path d="M266.60,239.60 C269.18,239.25 279.52,237.85 282.10,237.50" fill="none" stroke="#f08a2a" stroke-width="0.75"/>
<path d="M269.70,204.50 C272.45,204.33 283.45,203.67 286.20,203.50" fill="none" stroke="#56b8f0" stroke-width="0.75"/>
<path d="M309.50,243.70 C311.92,243.53 319.87,242.18 324.00,242.70 C328.13,243.22 331.22,245.43 334.30,246.80 C337.38,248.17 341.13,250.22 342.50,250.90" fill="none" stroke="#f08a2a" stroke-width="0.75"/>
<path d="M309.50,259.20 C310.18,257.13 311.18,249.00 313.60,246.80 C316.02,244.60 319.87,245.32 324.00,246.00 C328.13,246.68 334.62,249.05 338.40,250.90 C342.18,252.75 345.32,256.07 346.70,257.10" fill="none" stroke="#8e3fb0" stroke-width="0.75"/>
<path d="M330.20,255.10 C332.25,255.27 339.20,255.28 342.50,256.10 C345.80,256.92 348.75,259.35 350.00,260.00" fill="none" stroke="#5ab04a" stroke-width="0.75"/>
<path d="M348.70,241.60 C350.43,241.95 357.37,243.35 359.10,243.70" fill="none" stroke="#f08a2a" stroke-width="0.75"/>
<path d="M361.10,197.30 C360.07,201.42 356.97,214.78 354.90,222.00 C352.83,229.22 349.73,237.50 348.70,240.60" fill="none" stroke="#2f6fd0" stroke-width="0.75"/>
<path d="M345.60,199.30 C347.15,200.68 353.00,205.15 354.90,207.60 C356.80,210.05 356.65,212.93 357.00,214.00" fill="none" stroke="#e8302a" stroke-width="0.75"/>
<path d="M311.60,201.40 C311.93,202.77 313.27,208.23 313.60,209.60" fill="none" stroke="#56b8f0" stroke-width="0.75"/>
<path d="M328.10,201.40 C328.45,203.80 329.85,213.40 330.20,215.80" fill="none" stroke="#56b8f0" stroke-width="0.75"/>
<path d="M305.00,203.50 C305.67,204.42 308.33,208.08 309.00,209.00" fill="none" stroke="#f08a2a" stroke-width="0.75"/>
<path d="M235.60,291.90 C237.15,292.07 242.32,291.70 244.90,292.90 C247.48,294.10 249.03,297.20 251.10,299.10 C253.17,301.00 256.27,303.43 257.30,304.30" fill="none" stroke="#8e3fb0" stroke-width="0.75"/>
<path d="M250.10,280.50 C250.43,283.95 251.77,297.75 252.10,301.20" fill="none" stroke="#e8302a" stroke-width="0.75"/>
<path d="M273.80,280.50 C275.18,280.85 279.52,283.28 282.10,282.60 C284.68,281.92 288.10,277.43 289.30,276.40" fill="none" stroke="#8e3fb0" stroke-width="0.75"/>
<path d="M275.90,280.50 C277.25,281.88 281.93,286.05 284.00,288.80 C286.07,291.55 287.58,295.63 288.30,297.00" fill="none" stroke="#f2c02a" stroke-width="0.75"/>
<path d="M250.00,315.60 C249.83,316.98 249.17,322.52 249.00,323.90" fill="none" stroke="#e8302a" stroke-width="0.75"/>
<path d="M251.10,323.90 C251.25,324.92 251.85,328.98 252.00,330.00" fill="none" stroke="#56b8f0" stroke-width="0.75"/>
<path d="M266.60,300.00 C266.93,301.17 268.60,304.50 268.60,307.00 C268.60,309.50 266.93,313.67 266.60,315.00" fill="none" stroke="#2f6fd0" stroke-width="0.75"/>
<path d="M267.60,274.00 C267.43,275.67 266.77,282.33 266.60,284.00" fill="none" stroke="#2f6fd0" stroke-width="0.75"/>
<path d="M307.50,276.40 C308.52,277.77 312.58,283.23 313.60,284.60" fill="none" stroke="#5ab04a" stroke-width="0.75"/>
<path d="M311.60,278.50 C312.10,279.35 314.10,282.75 314.60,283.60" fill="none" stroke="#8e3fb0" stroke-width="0.75"/>
<path d="M344.60,323.90 C345.28,323.20 346.98,320.73 348.70,319.70 C350.42,318.67 353.17,317.00 354.90,317.70 C356.63,318.40 358.40,322.87 359.10,323.90" fill="none" stroke="#f2c02a" stroke-width="0.75"/>
<path d="M357.00,266.00 C357.67,266.33 360.33,267.67 361.00,268.00" fill="none" stroke="#f08a2a" stroke-width="0.75"/>
<path d="M298.00,200.00 C298.67,199.33 301.33,196.67 302.00,196.00" fill="none" stroke="#f2c02a" stroke-width="0.75"/>
<path d="M252.00,245.00 C252.28,246.83 253.42,254.17 253.70,256.00" fill="none" stroke="#56b8f0" stroke-width="0.75"/>
<path d="M249.00,256.00 C250.33,256.00 255.67,256.00 257.00,256.00" fill="none" stroke="#f08a2a" stroke-width="0.75"/>
<path d="M251.00,245.00 C251.58,246.33 253.92,251.67 254.50,253.00" fill="none" stroke="#56b8f0" stroke-width="0.75"/>
<path d="M268.20,277.00 C267.93,278.33 266.87,283.67 266.60,285.00" fill="none" stroke="#2f6fd0" stroke-width="0.75"/>
<path d="M274.70,277.00 C275.58,277.50 279.12,279.50 280.00,280.00" fill="none" stroke="#f2c02a" stroke-width="0.75"/>
<path d="M258.00,207.00 C261.00,206.92 273.00,206.58 276.00,206.50" fill="none" stroke="#5ab04a" stroke-width="0.75"/>
<path d="M252.00,221.00 C253.00,221.83 257.00,225.17 258.00,226.00" fill="none" stroke="#e8302a" stroke-width="0.75"/>
<path d="M244.00,238.00 C244.50,239.00 246.50,243.00 247.00,244.00" fill="none" stroke="#f08a2a" stroke-width="0.75"/>
<path d="M338.00,236.00 C339.33,237.00 344.67,241.00 346.00,242.00" fill="none" stroke="#e8302a" stroke-width="0.75"/>
<path d="M318.00,236.00 C319.33,236.67 324.67,239.33 326.00,240.00" fill="none" stroke="#f08a2a" stroke-width="0.75"/>
<path d="M316.00,226.00 C317.67,227.00 324.33,231.00 326.00,232.00" fill="none" stroke="#5ab04a" stroke-width="0.75"/>
<path d="M353.00,252.00 C354.17,252.67 358.83,255.33 360.00,256.00" fill="none" stroke="#e8302a" stroke-width="0.75"/>
<path d="M344.00,268.00 C345.33,267.00 350.67,263.00 352.00,262.00" fill="none" stroke="#8e3fb0" stroke-width="0.75"/>
<path d="M338.00,288.00 C339.00,289.33 343.00,294.67 344.00,296.00" fill="none" stroke="#f08a2a" stroke-width="0.75"/>
<path d="M300.00,290.00 C301.17,291.00 305.83,295.00 307.00,296.00" fill="none" stroke="#5ab04a" stroke-width="0.75"/>
<path d="M296.00,305.00 C297.00,304.17 301.00,300.83 302.00,300.00" fill="none" stroke="#e8302a" stroke-width="0.75"/>
<path d="M256.00,285.00 C257.00,286.17 261.00,290.83 262.00,292.00" fill="none" stroke="#f08a2a" stroke-width="0.75"/>
<path d="M241.00,302.00 C242.33,302.67 247.67,305.33 249.00,306.00" fill="none" stroke="#8e3fb0" stroke-width="0.75"/>
<path d="M246.00,308.00 C247.17,306.67 251.83,301.33 253.00,300.00" fill="none" stroke="#f2c02a" stroke-width="0.75"/>
<path d="M281.00,312.00 C282.00,313.00 286.00,317.00 287.00,318.00" fill="none" stroke="#e8302a" stroke-width="0.75"/>
<path d="M283.00,296.00 C283.33,297.67 284.67,304.33 285.00,306.00" fill="none" stroke="#56b8f0" stroke-width="0.75"/>
<path d="M345.00,304.00 C345.83,305.33 349.17,310.67 350.00,312.00" fill="none" stroke="#5ab04a" stroke-width="0.75"/>
<path d="M356.00,300.00 C356.83,301.00 360.17,305.00 361.00,306.00" fill="none" stroke="#f08a2a" stroke-width="0.75"/>
<path d="M303.00,258.00 C304.33,258.67 309.67,261.33 311.00,262.00" fill="none" stroke="#8e3fb0" stroke-width="0.75"/>
<path d="M336.00,208.00 C336.67,209.67 339.33,216.33 340.00,218.00" fill="none" stroke="#2f6fd0" stroke-width="0.75"/>
<line x1="48.67" y1="378.5" x2="48.67" y2="519.3" stroke="#e8e8e8" stroke-width="0.5"/>
<line x1="74.13" y1="378.5" x2="74.13" y2="519.3" stroke="#e8e8e8" stroke-width="0.5"/>
<line x1="99.60" y1="378.5" x2="99.60" y2="519.3" stroke="#e8e8e8" stroke-width="0.5"/>
<line x1="125.07" y1="378.5" x2="125.07" y2="519.3" stroke="#e8e8e8" stroke-width="0.5"/>
<line x1="150.53" y1="378.5" x2="150.53" y2="519.3" stroke="#e8e8e8" stroke-width="0.5"/>
<line x1="23.2" y1="491.14" x2="176.0" y2="491.14" stroke="#e8e8e8" stroke-width="0.5"/>
<line x1="23.2" y1="462.98" x2="176.0" y2="462.98" stroke="#e8e8e8" stroke-width="0.5"/>
<line x1="23.2" y1="434.82" x2="176.0" y2="434.82" stroke="#e8e8e8" stroke-width="0.5"/>
<line x1="23.2" y1="406.66" x2="176.0" y2="406.66" stroke="#e8e8e8" stroke-width="0.5"/>
<rect x="23.2" y="378.5" width="152.8" height="140.79999999999995" fill="none" stroke="#a8a8a8" stroke-width="0.6"/>
<text x="23.20" y="527.90" text-anchor="middle">0</text>
<text x="48.67" y="527.90" text-anchor="middle">10</text>
<text x="74.13" y="527.90" text-anchor="middle">20</text>
<text x="99.60" y="527.90" text-anchor="middle">30</text>
<text x="125.07" y="527.90" text-anchor="middle">40</text>
<text x="150.53" y="527.90" text-anchor="middle">50</text>
<text x="176.00" y="527.90" text-anchor="middle">60</text>
<text x="21.20" y="521.80" text-anchor="end">0</text>
<text x="21.20" y="493.64" text-anchor="end">5</text>
<text x="21.20" y="465.48" text-anchor="end">10</text>
<text x="21.20" y="437.32" text-anchor="end">15</text>
<text x="21.20" y="409.16" text-anchor="end">20</text>
<text x="21.20" y="381.00" text-anchor="end">25</text>
<path d="M23.20,491.14 L23.20,406.66 L31.86,406.66 L33.00,491.14 L33.64,491.14 L34.66,406.66 L35.68,406.66 L37.08,491.14 L42.55,491.14 L43.83,406.66 L52.74,406.66 L54.01,491.14 L65.98,491.14 L67.00,406.66 L69.80,406.66 L71.08,491.14 L75.41,491.14 L76.68,406.66 L82.79,406.66 L84.07,491.14 L105.97,491.14 L106.99,406.66 L112.33,406.66 L113.61,491.14 L118.95,491.14 L119.97,406.66 L124.05,406.66 L125.32,491.14 L130.67,491.14 L131.69,406.66 L138.56,406.66 L139.84,491.14 L141.37,491.14 L142.38,406.66 L145.19,406.66 L146.20,491.14 L147.35,491.14 L147.48,431.44 L147.60,491.14 L155.12,491.14 L156.39,406.66 L167.60,406.66 L168.61,491.14 L169.12,491.14 L170.14,406.66 L174.73,406.66 L175.75,416.23 L176.00,416.23" fill="none" stroke="#f23c3c" stroke-width="1.05" stroke-linejoin="round"/>
<text x="27.1" y="403.1" text-anchor="middle" font-size="5.5">(1)</text>
<text x="35.2" y="403.1" text-anchor="middle" font-size="5.5">(2)</text>
<text x="49.6" y="403.1" text-anchor="middle" font-size="5.5">(3)</text>
<text x="68.5" y="403.1" text-anchor="middle" font-size="5.5">(4)</text>
<text x="79.9" y="403.1" text-anchor="middle" font-size="5.5">(5)</text>
<text x="108.3" y="403.1" text-anchor="middle" font-size="5.5">(6)</text>
<text x="120.4" y="403.1" text-anchor="middle" font-size="5.5">(7)</text>
<text x="133.9" y="403.1" text-anchor="middle" font-size="5.5">(8)</text>
<text x="142.6" y="403.1" text-anchor="middle" font-size="5.5">(9)</text>
<text x="159.4" y="403.1" text-anchor="middle" font-size="5.5">(11)</text>
<text x="170.6" y="403.1" text-anchor="middle" font-size="5.5">(12)</text>
<text x="150.1" y="420.3" text-anchor="middle" font-size="5.5">(10)</text>
<line x1="149.8" y1="421.6" x2="147.8" y2="429" stroke="#222" stroke-width="0.5"/>
<text x="99.7" y="536.8" text-anchor="middle">Flight time <tspan font-style="italic">t</tspan>/s</text>
<text transform="translate(11.4,447.2) rotate(-90)" text-anchor="middle" font-size="7.5">Thrust acceleration <tspan font-style="italic">u</tspan> / (m<tspan>&#183;</tspan>s<tspan font-size="4.8" dy="-2.4">-2</tspan><tspan dy="2.4">)</tspan></text>
<text x="89.9" y="547.3" text-anchor="middle" font-weight="bold" font-size="9">(e)</text>
<line x1="241.77" y1="379.3" x2="241.77" y2="517.3" stroke="#e8e8e8" stroke-width="0.5"/>
<line x1="266.73" y1="379.3" x2="266.73" y2="517.3" stroke="#e8e8e8" stroke-width="0.5"/>
<line x1="291.70" y1="379.3" x2="291.70" y2="517.3" stroke="#e8e8e8" stroke-width="0.5"/>
<line x1="316.67" y1="379.3" x2="316.67" y2="517.3" stroke="#e8e8e8" stroke-width="0.5"/>
<line x1="341.63" y1="379.3" x2="341.63" y2="517.3" stroke="#e8e8e8" stroke-width="0.5"/>
<line x1="216.8" y1="505.80" x2="366.6" y2="505.80" stroke="#e8e8e8" stroke-width="0.5"/>
<line x1="216.8" y1="477.05" x2="366.6" y2="477.05" stroke="#e8e8e8" stroke-width="0.5"/>
<line x1="216.8" y1="448.30" x2="366.6" y2="448.30" stroke="#e8e8e8" stroke-width="0.5"/>
<line x1="216.8" y1="419.55" x2="366.6" y2="419.55" stroke="#e8e8e8" stroke-width="0.5"/>
<line x1="216.8" y1="390.80" x2="366.6" y2="390.80" stroke="#e8e8e8" stroke-width="0.5"/>
<rect x="216.8" y="379.3" width="149.8" height="137.99999999999994" fill="none" stroke="#a8a8a8" stroke-width="0.6"/>
<text x="216.80" y="525.50" text-anchor="middle">0</text>
<text x="241.77" y="525.50" text-anchor="middle">10</text>
<text x="266.73" y="525.50" text-anchor="middle">20</text>
<text x="291.70" y="525.50" text-anchor="middle">30</text>
<text x="316.67" y="525.50" text-anchor="middle">40</text>
<text x="341.63" y="525.50" text-anchor="middle">50</text>
<text x="366.60" y="525.50" text-anchor="middle">60</text>
<text x="214.80" y="508.30" text-anchor="end">-1</text>
<text x="214.80" y="479.55" text-anchor="end">-0.5</text>
<text x="214.80" y="450.80" text-anchor="end">0</text>
<text x="214.80" y="422.05" text-anchor="end">0.5</text>
<text x="214.80" y="393.30" text-anchor="end">1</text>
<path d="M216.80,410.35 L223.54,422.43 L231.28,444.27 L236.27,459.22 L242.77,475.90 L246.51,477.62 L251.75,479.35 L254.25,454.62 L256.75,418.98 L259.74,399.43 L261.99,402.30 L266.98,439.10 L270.73,464.40 L273.22,471.88 L275.97,464.40 L279.72,428.75 L282.71,393.10 L284.71,390.80 L291.45,390.80 L292.95,505.22 L293.70,500.05 L295.45,445.42 L296.94,427.60 L298.69,425.30 L301.94,436.80 L307.18,477.62 L310.92,500.05 L313.42,505.22 L315.92,502.92 L319.91,467.27 L323.66,421.27 L326.65,410.93 L328.90,418.98 L331.40,479.92 L333.39,504.07 L337.64,497.75 L342.88,464.40 L347.88,426.45 L352.87,414.95 L355.37,416.10 L358.11,441.97 L360.61,475.90 L364.35,472.45 L366.60,470.72" fill="none" stroke="#f23c3c" stroke-width="1.0" stroke-linejoin="round"/>
<path d="M216.80,403.45 L223.54,393.10 L230.03,390.23 L236.27,393.10 L244.01,398.27 L251.75,399.43 L255.50,391.38 L258.00,405.75 L260.49,417.25 L264.49,405.75 L268.23,391.38 L273.22,395.98 L278.47,390.80 L280.96,398.27 L282.71,439.10 L287.21,444.27 L290.45,448.01 L291.95,505.22 L294.45,393.10 L298.19,395.98 L303.18,390.80 L308.43,416.10 L313.42,446.57 L317.17,410.93 L319.66,391.95 L326.15,403.45 L329.90,390.80 L333.39,433.92 L337.64,413.80 L344.13,390.80 L347.88,394.82 L353.62,401.15 L357.36,391.95 L360.61,397.12 L363.10,394.82 L366.60,395.98" fill="none" stroke="#2a2af5" stroke-width="1.3" stroke-dasharray="2.6,1.4" stroke-linejoin="round"/>
<rect x="226" y="486" width="39" height="22.5" fill="#fff" stroke="#a8a8a8" stroke-width="0.5"/>
<line x1="229.7" y1="492.3" x2="243.5" y2="492.3" stroke="#f23c3c" stroke-width="1.0"/>
<line x1="229.7" y1="503" x2="243.5" y2="503" stroke="#2a2af5" stroke-width="1.3" stroke-dasharray="2.6,1.4"/>
<text x="245.5" y="494" font-size="6.3"><tspan font-style="italic">u</tspan><tspan font-size="4.2" dy="1.5">x</tspan><tspan dy="-1.5">/</tspan><tspan font-style="italic">u</tspan></text>
<text x="245.5" y="504.7" font-size="6.3"><tspan font-style="italic">u</tspan><tspan font-size="4.2" dy="1.5">y</tspan><tspan dy="-1.5">/</tspan><tspan font-style="italic">u</tspan></text>
<text x="292" y="534.4" text-anchor="middle">Flight time <tspan font-style="italic">t</tspan>/s</text>
<text transform="translate(201.6,447) rotate(-90)" text-anchor="middle" font-size="7.7">Thrust directions</text>
<text x="281.8" y="546" text-anchor="middle" font-weight="bold" font-size="9">(f)</text>
<text x="89.6" y="184.1" text-anchor="middle" font-weight="bold" font-size="9">(a)</text>
<text x="281.9" y="183.1" text-anchor="middle" font-weight="bold" font-size="9">(b)</text>
<text x="89.2" y="372.3" text-anchor="middle" font-weight="bold" font-size="9">(c)</text>
<text x="282.8" y="372.3" text-anchor="middle" font-weight="bold" font-size="9">(d)</text>
</svg></body></html>
